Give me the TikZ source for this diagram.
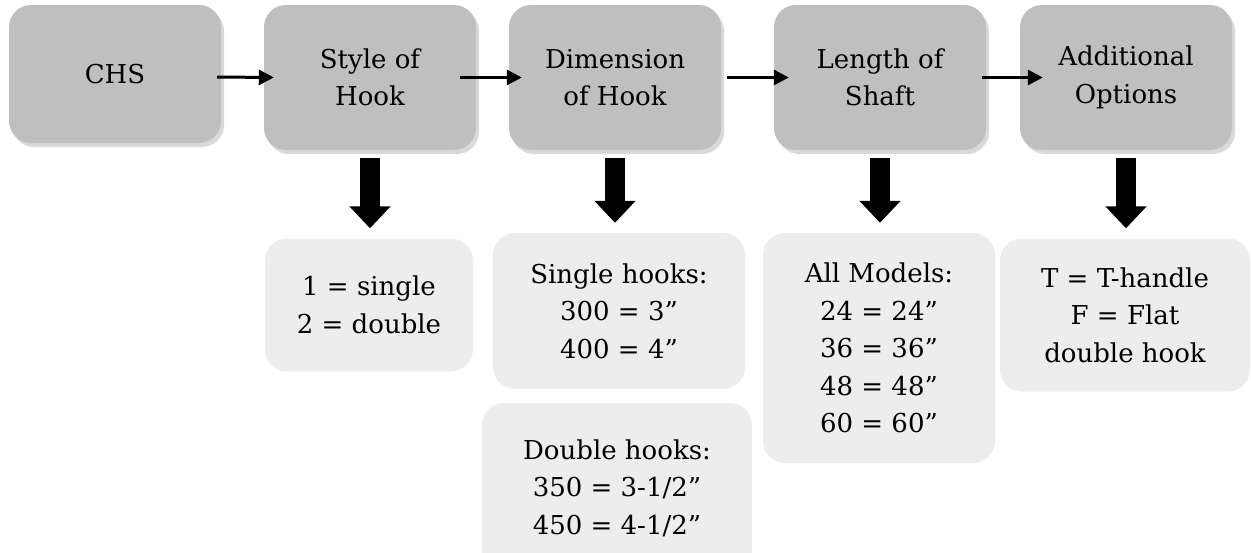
\documentclass[tikz,border=0pt]{standalone}
\usepackage{fontspec}
\setmainfont{DejaVu Serif}
\usepackage{tikz}
\usetikzlibrary{arrows.meta,shadows}
\definecolor{stepgray}{HTML}{BFBFBF}
\definecolor{codegray}{HTML}{EDEDED}
\tikzstyle{Step}=[rectangle, rounded corners=22pt, minimum width=212, minimum height=145, inner sep=0, fill=stepgray, align=center, drop shadow={opacity=0.3, shadow xshift=3pt, shadow yshift=-4pt}, font=\fontsize{26}{37.5}\selectfont]
\tikzstyle{Code}=[rectangle, rounded corners=22pt, inner sep=0, fill=codegray, align=center, font=\fontsize{26}{37.5}\selectfont]
\tikzstyle{Link}=[line width=3pt, -{Triangle[length=15pt,width=15pt]}]
\tikzstyle{Down}=[line width=20pt, -{Triangle[length=22pt,width=40pt]}, shorten <=8pt, shorten >=10pt]

\begin{document}
\begin{tikzpicture}[x=1pt, y=-1pt]
    \clip (0,0) rectangle (1251,552);
    \path
    (115,74) node[Step, minimum height=138] (chs) {CHS}
    (370,77.5) node[Step] (style) {Style of\\Hook}
    (615,77.5) node[Step] (dim) {Dimension\\of Hook}
    (880,77.5) node[Step] (length) {Length of\\Shaft}
    (1126,77.5) node[Step] (extra) {Additional\\Options};
    \path
    (369,305) node[Code, minimum width=208, minimum height=133] (styleopts) {1 = single\\2 = double}
    (619,311) node[Code, minimum width=252, minimum height=156] (single) {Single hooks:\\300 = 3”\\400 = 4”}
    (617,488) node[Code, minimum width=270, minimum height=170] (double) {Double hooks:\\350 = 3-1/2”\\450 = 4-1/2”}
    (879,348) node[Code, minimum width=232, minimum height=230] (lengthopts) {All Models:\\24 = 24”\\36 = 36”\\48 = 48”\\60 = 60”}
    (1125,315) node[Code, minimum width=250, minimum height=153] (extraopts) {T = T-handle\\F = Flat\\double hook};

    \draw[Link] ([xshift=-4pt,yshift=-3pt]chs.east) -- ([xshift=10pt]style.west);
    \draw[Link] ([xshift=-16pt]style.east) -- ([xshift=13pt]dim.west);
    \draw[Link] ([xshift=6pt]dim.east) -- ([xshift=15pt]length.west);
    \draw[Link] ([xshift=-4pt]length.east) -- ([xshift=23pt]extra.west);
    \draw[Down] (style.south) -- (style.south |- styleopts.north);
    \draw[Down] (dim.south) -- (dim.south |- single.north);
    \draw[Down] (length.south) -- (length.south |- lengthopts.north);
    \draw[Down] (extra.south) -- (extra.south |- extraopts.north);
\end{tikzpicture}
\end{document}
